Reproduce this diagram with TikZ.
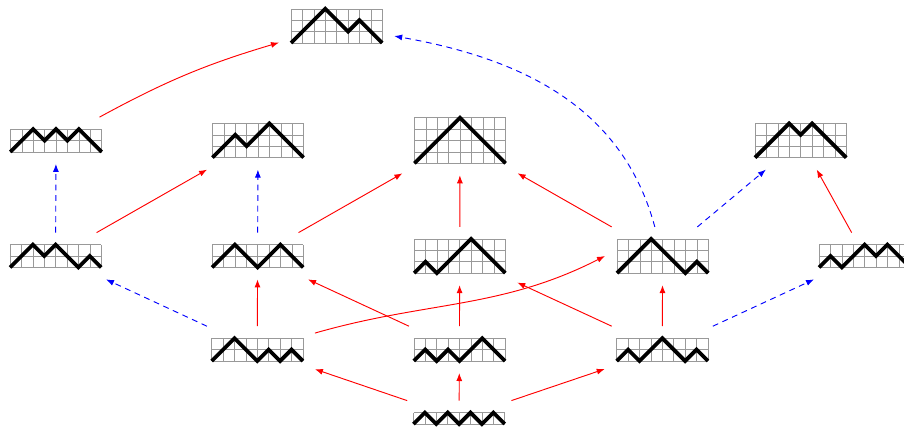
\documentclass[tikz,border=0pt]{standalone}
\usepackage{tikz}
\usetikzlibrary{arrows.meta}

\def\cellsize{3.42mm}
\tikzset{
  dyckbox/.style={inner sep=0pt, outer sep=3.6mm, minimum width=8*\cellsize},
  dyckgrid/.style={gray!80, line width=0.4pt},
  dyckline/.style={line width=3.2pt},
  redarrow/.style={red, line width=0.8pt, -{Latex[length=2.4mm, width=1.8mm]}},
  bluearrow/.style={redarrow, blue, dash pattern=on 5pt off 4pt},
}
% name, centre, rows, steps
\newcommand{\dyck}[4]{%
  \node[dyckbox, minimum height=#3*\cellsize] (#1) at (#2) {};
  \begin{scope}[shift={(#1.center)}, x=\cellsize, y=\cellsize, shift={(-4,-#3/2)}]
    \draw[dyckgrid, step=\cellsize] (0,0) grid (8,#3);
    \draw[dyckline] (0,0) \foreach \s in {#4} { -- ++(1,\s) };
  \end{scope}
}

\begin{document}
\begin{tikzpicture}[x=0.3mm, y=0.3mm]
  \useasboundingbox (0,0) rectangle (904,426);
  \dyck{t}{336.6,400.1}{3}{1,1,1,-1,-1,1,-1,-1}
  \dyck{a1}{56,285.5}{2}{1,1,-1,1,-1,1,-1,-1}
  \dyck{a2}{258,285.5}{3}{1,1,-1,1,1,-1,-1,-1}
  \dyck{a3}{460,285.5}{4}{1,1,1,1,-1,-1,-1,-1}
  \dyck{a5}{800.6,285.5}{3}{1,1,1,-1,1,-1,-1,-1}
  \dyck{b1}{55.6,170}{2}{1,1,-1,1,-1,-1,1,-1}
  \dyck{b2}{257.6,170}{2}{1,1,-1,-1,1,1,-1,-1}
  \dyck{b3}{459.7,170}{3}{1,-1,1,1,1,-1,-1,-1}
  \dyck{b4}{662.6,170}{3}{1,1,1,-1,-1,-1,1,-1}
  \dyck{b5}{864.6,170}{2}{1,-1,1,1,-1,1,-1,-1}
  \dyck{c2}{257.3,76.4}{2}{1,1,-1,-1,1,-1,1,-1}
  \dyck{c3}{459.4,76.4}{2}{1,-1,1,-1,1,1,-1,-1}
  \dyck{c4}{662.3,76.4}{2}{1,-1,1,1,-1,-1,1,-1}
  \dyck{d}{459.1,7.7}{1}{1,-1,1,-1,1,-1,1,-1}

  \path[redarrow]
  (a1) edge[bend left=6] (t)
  (b1) edge (a2)
  (b2) edge (a3)
  (b3) edge (a3)
  (b4) edge (a3)
  (b5) edge (a5)
  (c2) edge (b2)
  (c2.16) edge[out=16, in=207] (b4.west)
  (c3) edge (b2)
       edge (b3)
  (c4) edge (b3)
       edge (b4)
  (d)  edge (c2)
       edge (c3)
       edge (c4)
  ;
  \path[bluearrow]
  (b1) edge (a1)
  (b2) edge (a2)
  (c2) edge (b1)
  (c4) edge (b5)
  (b4) edge (a5)
       edge[out=105, in=350] (t)
  ;
\end{tikzpicture}
\end{document}
